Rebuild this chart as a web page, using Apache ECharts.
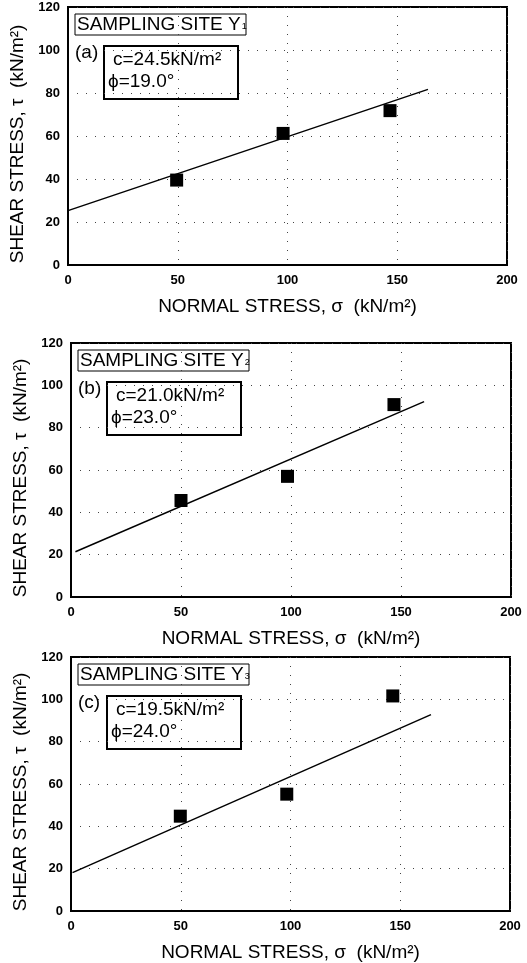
<!DOCTYPE html>
<html>
<head>
<meta charset="utf-8">
<script src="https://cdn.jsdelivr.net/npm/echarts@6/dist/echarts.min.js"></script>
<style>
  html, body { margin: 0; padding: 0; background: #fff; }
  #chart { width: 527px; height: 963px; }
</style>
</head>
<body>
<div id="chart"></div>
<script>
// 三个采样点的直剪试验结果
const panelTags = ['(a)', '(b)', '(c)'];
const siteSubs = ['1', '2', '3'];
const cohesion = ['24.5', '21.0', '19.5'];
const friction = ['19.0', '23.0', '24.0'];

const sigmaA = [49.5, 98, 146.7];
const tauA = [39.5, 61.2, 71.8];
const sigmaB = [50, 98.4, 146.8];
const tauB = [45.6, 57.0, 90.9];
const sigmaC = [49.8, 98.3, 146.6];
const tauC = [44.8, 55.2, 101.6];

// 拟合直线端点 (sigma, tau)
const fitA = [[0, 25.3], [164, 81.7]];
const fitB = [[2, 21.4], [160.5, 92.3]];
const fitC = [[0.7, 18.1], [164, 92.8]];

const xTicks = [0, 50, 100, 150, 200];
const yTicks = [0, 20, 40, 60, 80, 100, 120];

const xName = 'NORMAL STRESS, σ  (kN/m²)';
const yName = 'SHEAR STRESS, τ  (kN/m²)   ';

const points = [[sigmaA, tauA], [sigmaB, tauB], [sigmaC, tauC]];
const fits = [fitA, fitB, fitC];

const grids = [
    { left: 68, top: 7, width: 439, height: 258 },
    { left: 71, top: 343, width: 440, height: 254 },
    { left: 71, top: 657, width: 439, height: 254 }
];

const FONT = 'Liberation Sans, Arial, DejaVu Sans, sans-serif';

let chart = echarts.init(document.getElementById('chart'));

let xAxes = [], yAxes = [], series = [], graphics = [];

grids.forEach(function (g, i) {
    xAxes.push({
        gridIndex: i,
        type: 'value',
        min: xTicks[0],
        max: xTicks[xTicks.length - 1],
        interval: 50,
        name: xName,
        nameLocation: 'middle',
        nameGap: 32,
        nameTextStyle: { fontFamily: FONT, fontSize: 19, color: '#000' },
        axisLine: { show: true, lineStyle: { color: '#000', width: 2 } },
        axisTick: { show: false },
        axisLabel: { fontFamily: FONT, fontSize: 13, fontWeight: 700, color: '#000', margin: 9 },
        splitLine: { show: true, lineStyle: { color: '#444', width: 1, type: [1, 8] } }
    });
    yAxes.push({
        gridIndex: i,
        type: 'value',
        min: yTicks[0],
        max: yTicks[yTicks.length - 1],
        interval: 20,
        name: yName,
        nameLocation: 'middle',
        nameGap: 34,
        nameTextStyle: { fontFamily: FONT, fontSize: 19, color: '#000' },
        axisLine: { show: true, lineStyle: { color: '#000', width: 2 } },
        axisTick: { show: false },
        axisLabel: { fontFamily: FONT, fontSize: 13, fontWeight: 700, color: '#000', margin: 8 },
        splitLine: { show: true, lineStyle: { color: '#444', width: 1, type: [1, 8] } }
    });

    let pts = points[i][0].map(function (s, k) { return [s, points[i][1][k]]; });
    series.push({
        type: 'line',
        xAxisIndex: i,
        yAxisIndex: i,
        data: fits[i],
        symbol: 'none',
        lineStyle: { color: '#000', width: 1.5 },
        silent: true,
        z: 3
    });
    series.push({
        type: 'scatter',
        xAxisIndex: i,
        yAxisIndex: i,
        data: pts,
        symbol: 'rect',
        symbolSize: 13,
        itemStyle: { color: '#000', opacity: 1 },
        z: 4
    });

    // 左上角标注
    let gl = g.left, gt = g.top;
    graphics.push({
        type: 'group',
        z: 10,
        children: [
            {
                type: 'rect',
                shape: { x: gl + 7, y: gt + 7, width: 171, height: 21 },
                style: { fill: '#fff', stroke: '#000', lineWidth: 1 }
            },
            {
                type: 'text',
                x: gl + 9, y: gt + 18,
                style: {
                    text: '{m|SAMPLING SITE Y}{s|' + siteSubs[i] + '}',
                    verticalAlign: 'middle',
                    rich: {
                        m: { fontFamily: FONT, fontSize: 19, lineHeight: 20, fill: '#000' },
                        s: { fontFamily: FONT, fontSize: 9, verticalAlign: 'middle', padding: [4, 0, 0, 1], fill: '#000' }
                    }
                }
            },
            {
                type: 'text',
                x: gl + 7, y: gt + 46,
                style: { text: panelTags[i], fontFamily: FONT, fontSize: 19, fill: '#000', verticalAlign: 'middle' }
            },
            {
                type: 'rect',
                shape: { x: gl + 36, y: gt + 39, width: 134, height: 53 },
                style: { fill: '#fff', stroke: '#000', lineWidth: 2 }
            },
            {
                type: 'text',
                x: gl + 45, y: gt + 53,
                style: { text: 'c=' + cohesion[i] + 'kN/m²', fontFamily: FONT, fontSize: 19, fill: '#000', verticalAlign: 'middle' }
            },
            {
                type: 'text',
                x: gl + 40, y: gt + 75,
                style: { text: 'ϕ=' + friction[i] + '°', fontFamily: FONT, fontSize: 19, fill: '#000', verticalAlign: 'middle' }
            }
        ]
    });
});

chart.setOption({
    backgroundColor: '#fff',
    animation: false,
    grid: grids.map(function (g) {
        return Object.assign({ show: true, borderColor: '#000', borderWidth: 2, backgroundColor: 'transparent' }, g);
    }),
    xAxis: xAxes,
    yAxis: yAxes,
    series: series,
    graphic: graphics
});
</script>
</body>
</html>
